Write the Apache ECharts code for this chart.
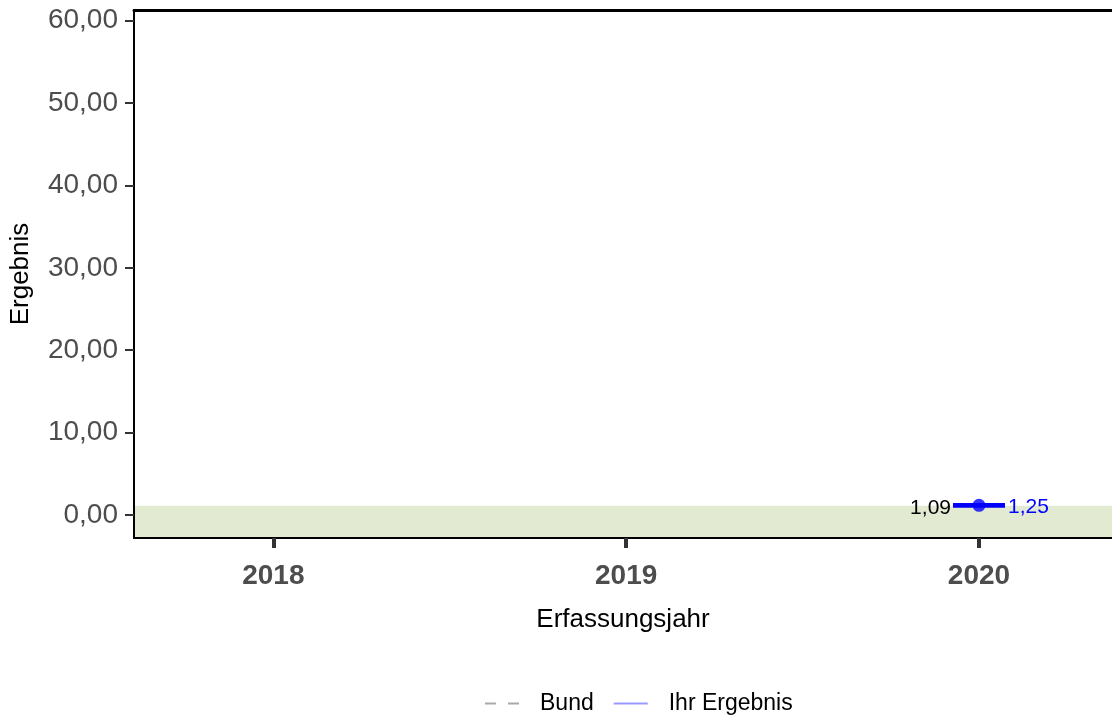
<!DOCTYPE html>
<html>
<head>
<meta charset="utf-8">
<script src="https://cdn.jsdelivr.net/npm/echarts@6/dist/echarts.min.js"></script>
<style>html,body{margin:0;padding:0;background:#fff}#c{width:1112px;height:715px}</style>
</head>
<body>
<div id="c"></div>
<script>
const years = [2018, 2019, 2020];
const yTicks = [0, 10, 20, 30, 40, 50, 60];
const resultYear = [2020];
const resultValue = [1.17];
const ciLower = [1.09];
const ciUpper = [1.25];
const referenceBand = [-2.8, 1.13];
const legendNames = ['Bund', 'Ihr Ergebnis'];

const fmt = v => v.toFixed(2).replace('.', ',');
const FONT = 'Liberation Sans, Arial, sans-serif';

const chart = echarts.init(document.getElementById('c'));
chart.setOption({
  animation: false,
  textStyle: { fontFamily: FONT },
  grid: { left: 134, right: 0, top: 10, bottom: 177 },
  legend: {
    top: 687, left: 480,
    data: [
      { name: legendNames[0], icon: 'path://M0,0h11v2h-11z M23,0h11v2h-11z', itemStyle: { color: '#aaaaaa' } },
      { name: legendNames[1], icon: 'path://M0,0h36v2h-36z', itemStyle: { color: '#9999ff' } }
    ],
    itemWidth: 34, itemHeight: 2, itemGap: 20,
    textStyle: { fontSize: 23, color: '#000', fontFamily: FONT, padding: [0, 0, 0, 16] }
  },
  xAxis: [{
    type: 'value', min: 2017.605, max: 2020.377,
    name: 'Erfassungsjahr', nameLocation: 'middle', nameGap: 69,
    nameTextStyle: { fontSize: 26, color: '#000', fontFamily: FONT },
    axisLine: { show: true, onZero: false, lineStyle: { color: '#000', width: 2 } },
    axisTick: { show: true, customValues: years, length: 10, lineStyle: { color: '#333', width: 4 } },
    axisLabel: { customValues: years, fontSize: 28, fontWeight: 'bold', color: '#4d4d4d', margin: 24, formatter: v => String(v) },
    splitLine: { show: false },
    z: 10
  }, {
    type: 'value', position: 'top', min: 2017.605, max: 2020.377,
    axisLine: { show: true, onZero: false, lineStyle: { color: '#000', width: 3 } },
    axisTick: { show: false }, axisLabel: { show: false }, splitLine: { show: false }
  }],
  yAxis: {
    type: 'value', min: -2.8, max: 61.3,
    name: 'Ergebnis', nameLocation: 'middle', nameGap: 100, nameRotate: 90,
    nameTextStyle: { fontSize: 26, color: '#000', fontFamily: FONT },
    axisLine: { show: true, onZero: false, lineStyle: { color: '#000', width: 2 } },
    axisTick: { show: true, customValues: yTicks, length: 9, lineStyle: { color: '#333', width: 2 } },
    axisLabel: { customValues: yTicks, fontSize: 28, color: '#4d4d4d', margin: 16, formatter: v => fmt(v) },
    splitLine: { show: false },
    z: 10
  },
  series: [
    {
      name: 'Bund', type: 'line', data: [], symbol: 'none',
      itemStyle: { color: '#aaaaaa' },
      lineStyle: { color: '#aaaaaa', type: [8, 8], width: 2 },
      markArea: {
        silent: true,
        itemStyle: { color: '#e2ebd2' },
        data: [[{ yAxis: referenceBand[0], xAxis: 'min' }, { yAxis: referenceBand[1], xAxis: 'max' }]]
      }
    },
    {
      name: 'Ihr Ergebnis', type: 'line', data: [], symbol: 'none',
      itemStyle: { color: '#9999ff' },
      lineStyle: { color: '#9999ff', width: 2 }
    },
    {
      type: 'custom',
      data: resultYear.map((y, i) => [y, ciLower[i], ciUpper[i]]),
      z: 5,
      renderItem: (params, api) => {
        const lo = api.coord([api.value(0), api.value(1)]);
        const hi = api.coord([api.value(0), api.value(2)]);
        const hw = 26;
        const st = { stroke: '#0000ff', lineWidth: 3.5 };
        return {
          type: 'group',
          children: [
            { type: 'line', shape: { x1: lo[0], y1: lo[1], x2: hi[0], y2: hi[1] }, style: st },
            { type: 'line', shape: { x1: lo[0] - hw, y1: lo[1], x2: lo[0] + hw, y2: lo[1] }, style: st },
            { type: 'line', shape: { x1: hi[0] - hw, y1: hi[1], x2: hi[0] + hw, y2: hi[1] }, style: st },
            { type: 'text', x: lo[0] - hw - 2, y: lo[1] + 2,
              style: { text: fmt(api.value(1)), fill: '#000', fontSize: 21, fontFamily: FONT, align: 'right', verticalAlign: 'middle' } },
            { type: 'text', x: hi[0] + hw + 3, y: hi[1] + 3,
              style: { text: fmt(api.value(2)), fill: '#0000ff', fontSize: 21, fontFamily: FONT, align: 'left', verticalAlign: 'middle' } }
          ]
        };
      }
    },
    {
      type: 'scatter', z: 6,
      data: resultYear.map((y, i) => [y, resultValue[i]]),
      symbolSize: 13,
      itemStyle: { color: '#0000ff' }
    }
  ]
});
</script>
</body>
</html>
